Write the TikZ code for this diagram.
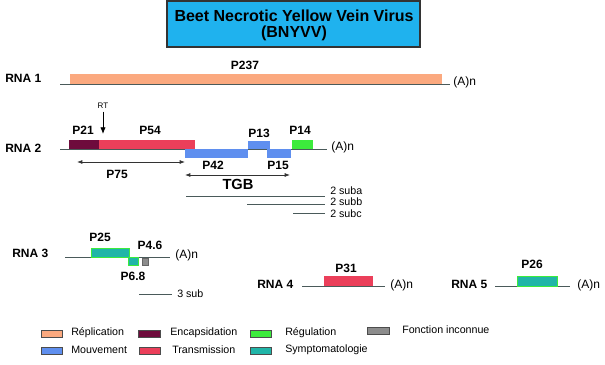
\documentclass[tikz,border=0pt]{standalone}
\usepackage{fontspec}
\setmainfont{Liberation Sans}
\usetikzlibrary{arrows.meta}
\definecolor{titleblue}{HTML}{1FB2EE}
\definecolor{crepl}{HTML}{FBA97F}
\definecolor{cenc}{HTML}{6E0B3C}
\definecolor{creg}{HTML}{3CEB3C}
\definecolor{cunk}{HTML}{8C8C8C}
\definecolor{cmov}{HTML}{5F8FEF}
\definecolor{ctra}{HTML}{EB3F5A}
\definecolor{csym}{HTML}{20B5A8}
\definecolor{rnaline}{HTML}{4A5A5A}
\tikzset{
  lbl/.style={font=\bfseries\fontsize{9}{10}\selectfont, inner sep=0pt},
  small/.style={font=\fontsize{8}{9}\selectfont, inner sep=0pt},
  rna/.style={draw=rnaline, line width=0.6pt},
  bar/.style={draw=none},
  symbar/.style={fill=csym, draw=creg, line width=0.6pt},
  sw/.style={draw=black!70, line width=0.4pt},
  dim/.style={draw=black!80, line width=0.6pt, {Latex[length=4pt,width=3pt]}-{Latex[length=4pt,width=3pt]}}
}
\begin{document}
\begin{tikzpicture}[x=0.75pt,y=-0.75pt]
\useasboundingbox (0,0) rectangle (605,364);
% title
\node[draw=black!80, line width=0.8pt, fill=titleblue, minimum width=189.75pt, minimum height=34.5pt, inner sep=0pt] (title) at (293.5,24) {};
\node[font=\bfseries\fontsize{12}{13}\selectfont, inner sep=0pt, align=center] (titletxt) at (294,25) {Beet Necrotic Yellow Vein Virus\\[-1pt](BNYVV)};

% RNA 1
\node[lbl, anchor=west] (rna1) at (5,78) {RNA 1};
\coordinate (r1a) at (60,84); \coordinate (r1b) at (450,84);
\fill[crepl] (70,74) rectangle (442,84);
\draw[rna] (r1a) -- (r1b);
\node[lbl] (p237) at (245,65) {P237};
\node[small, font=\fontsize{9}{10}\selectfont, anchor=west] (an1) at (453,82) {(A)n};

% RNA 2
\node[lbl, anchor=west] (rna2) at (5,148) {RNA 2};
\coordinate (r2a) at (60,149); \coordinate (r2b) at (327,149);
\draw[rna] (r2a) -- (r2b);
\fill[cenc] (69,140) rectangle (99,149);
\fill[ctra] (99,140) rectangle (195,149);
\fill[cmov] (185,149) rectangle (248,158);
\fill[cmov] (248,141) rectangle (270,149);
\fill[cmov] (267,149) rectangle (291,158);
\fill[creg] (292,140) rectangle (313,149);
\node[lbl] (p21) at (83,130) {P21};
\node[lbl] (p54) at (150,130) {P54};
\node[lbl] (p42) at (213,165) {P42};
\node[lbl] (p13) at (259,133) {P13};
\node[lbl] (p15) at (278,165) {P15};
\node[lbl] (p14) at (300,130) {P14};
\node[small, font=\fontsize{9}{10}\selectfont, anchor=west] (an2) at (331,147) {(A)n};
\node[font=\fontsize{6}{7}\selectfont, inner sep=0pt] (rt) at (103,106) {RT};
\coordinate (rtend) at (103,134);
\draw[black, line width=0.6pt, -{Latex[length=5pt,width=4pt]}] (rt.south)++(0,-2pt) -- (rtend);
\coordinate (p75a) at (77,162); \coordinate (p75b) at (185,162);
\draw[dim] (p75a) -- (p75b);
\node[lbl] (p75) at (117,174) {P75};
\coordinate (tgba) at (185,175); \coordinate (tgbb) at (290,175);
\draw[dim] (tgba) -- (tgbb);
\node[lbl, font=\bfseries\fontsize{11}{12}\selectfont] (tgb) at (238,184) {TGB};
\coordinate (sa1) at (186,196); \coordinate (sa2) at (325,196);
\coordinate (sb1) at (247,204); \coordinate (sb2) at (325,204);
\coordinate (sc1) at (293,213); \coordinate (sc2) at (325,213);
\draw[rna] (sa1) -- (sa2);
\draw[rna] (sb1) -- (sb2);
\draw[rna] (sc1) -- (sc2);
\node[small, anchor=west] (suba) at (330,191) {2 suba};
\node[small, anchor=west] (subb) at (330,202) {2 subb};
\node[small, anchor=west] (subc) at (330,214) {2 subc};

% RNA 3
\node[lbl, anchor=west] (rna3) at (12,253) {RNA 3};
\coordinate (r3a) at (65,257); \coordinate (r3b) at (170,257);
\draw[rna] (r3a) -- (r3b);
\draw[symbar] (91,248) rectangle (129,257);
\draw[symbar] (128,257) rectangle (138,265);
\fill[cunk] (142,258) rectangle (148,265);
\draw[black!60, line width=0.3pt] (142,258) rectangle (148,265);
\node[lbl] (p25) at (100,237) {P25};
\node[lbl] (p46) at (150,245) {P4.6};
\node[lbl] (p68) at (133,276) {P6.8};
\node[small, font=\fontsize{9}{10}\selectfont, anchor=west] (an3) at (175,255) {(A)n};
\coordinate (s3a) at (139,294); \coordinate (s3b) at (172,294);
\draw[rna] (s3a) -- (s3b);
\node[small, anchor=west] (sub3) at (177,294) {3 sub};

% RNA 4
\node[lbl, anchor=west] (rna4) at (257,284) {RNA 4};
\coordinate (r4a) at (302,286); \coordinate (r4b) at (385,286);
\draw[rna] (r4a) -- (r4b);
\fill[ctra] (324,276) rectangle (373,286);
\node[lbl] (p31) at (346,268) {P31};
\node[small, font=\fontsize{9}{10}\selectfont, anchor=west] (an4) at (390,285) {(A)n};

% RNA 5
\node[lbl, anchor=west] (rna5) at (451,284) {RNA 5};
\coordinate (r5a) at (495,286); \coordinate (r5b) at (570,286);
\draw[rna] (r5a) -- (r5b);
\draw[symbar] (517,276) rectangle (557,286);
\node[lbl] (p26) at (532,264) {P26};
\node[small, font=\fontsize{9}{10}\selectfont, anchor=west] (an5) at (577,285) {(A)n};

% legend
\draw[sw, fill=crepl] (41,330) rectangle (62,337);
\node[small, anchor=west] (lrepl) at (71,333) {Réplication};
\draw[sw, fill=cenc] (138,330) rectangle (160,337);
\node[small, anchor=west] (lenc) at (170,333) {Encapsidation};
\draw[sw, fill=creg] (250,330) rectangle (271,337);
\node[small, anchor=west] (lreg) at (285,333) {Régulation};
\draw[sw, fill=cunk] (367,327) rectangle (389,334);
\node[small, anchor=west] (lunk) at (402,330) {Fonction inconnue};
\draw[sw, fill=cmov] (41,347) rectangle (62,354);
\node[small, anchor=west] (lmov) at (71,350) {Mouvement};
\draw[sw, fill=ctra] (139,347) rectangle (160,354);
\node[small, anchor=west] (ltra) at (172,350) {Transmission};
\draw[sw, fill=csym] (250,347) rectangle (271,354);
\node[small, anchor=west] (lsym) at (285,350) {Symptomatologie};
\end{tikzpicture}
\end{document}
